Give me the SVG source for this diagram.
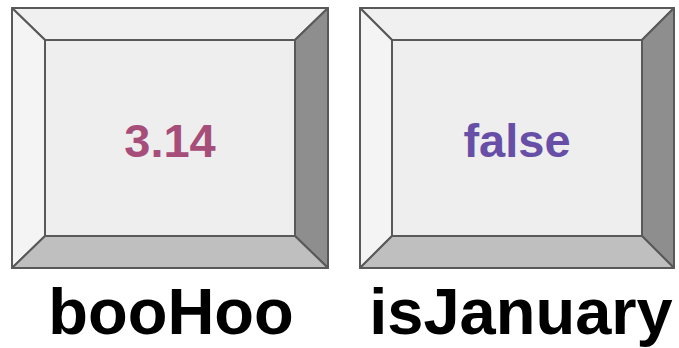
<svg xmlns="http://www.w3.org/2000/svg" width="679" height="348" viewBox="0 0 679 348">
  <style>
    .edge { stroke: #595959; stroke-width: 2; stroke-linejoin: round; }
    .face { fill: #eeeeee; }
    .top { fill: #f0f0f0; }
    .left { fill: #f4f4f4; }
    .right { fill: #8e8e8e; }
    .bottom { fill: #bfbfbf; }
    .value { font-family: "Liberation Sans", Arial, sans-serif; font-weight: bold; font-size: 47px; text-anchor: middle; }
    .name { font-family: "Liberation Sans", Arial, sans-serif; font-weight: bold; font-size: 65px; text-anchor: middle; fill: #000000; }
  </style>

  <!-- variable box: booHoo -->
  <g id="booHoo">
    <polygon class="top edge" points="12,8 328,8 295,40 45,40"/>
    <polygon class="left edge" points="12,8 45,40 45,236 12,268"/>
    <polygon class="right edge" points="328,8 328,268 295,236 295,40"/>
    <polygon class="bottom edge" points="12,268 45,236 295,236 328,268"/>
    <rect class="face edge" x="45" y="40" width="250" height="196"/>
    <text class="value" x="170" y="157" fill="#a64d79">3.14</text>
    <text class="name" x="171" y="334">booHoo</text>
  </g>

  <!-- variable box: isJanuary -->
  <g id="isJanuary">
    <polygon class="top edge" points="360,8 674,8 642,40 392,40"/>
    <polygon class="left edge" points="360,8 392,40 392,236 360,268"/>
    <polygon class="right edge" points="674,8 674,268 642,236 642,40"/>
    <polygon class="bottom edge" points="360,268 392,236 642,236 674,268"/>
    <rect class="face edge" x="392" y="40" width="250" height="196"/>
    <text class="value" x="517" y="157" fill="#674ea7">false</text>
    <text class="name" x="521" y="334">isJanuary</text>
  </g>
</svg>
